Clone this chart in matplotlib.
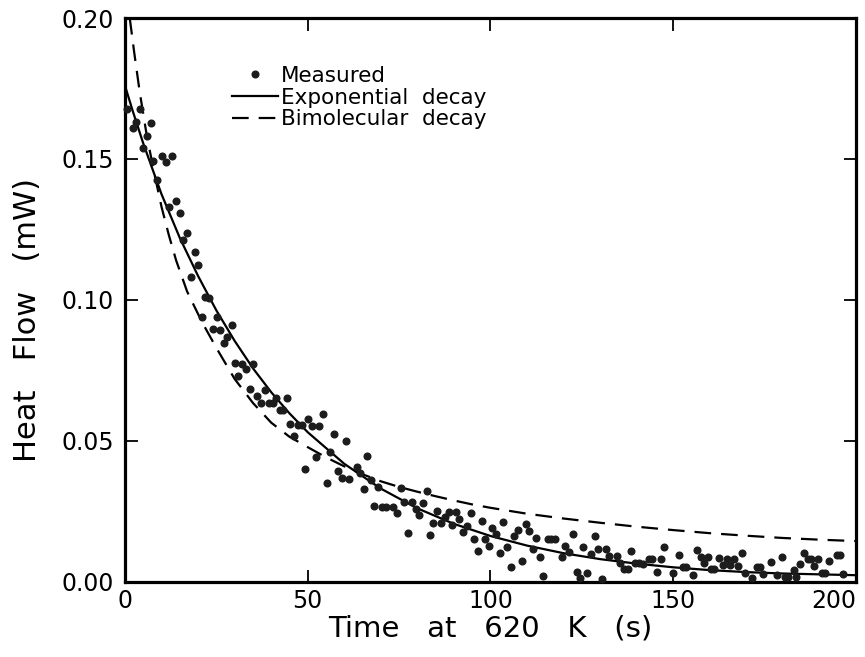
import matplotlib
matplotlib.use('Agg')
import matplotlib.pyplot as plt

# measured heat flow
t_meas = [0.5, 2.1, 3.0, 4.1, 5.0, 5.9, 7.0, 7.7, 8.8, 10.0, 11.1, 12.1, 12.9, 14.0, 15.0, 16.0, 17.0,
          18.1, 19.2, 20.1, 21.2, 22.0, 23.0, 24.2, 25.1, 26.0, 27.1, 28.0, 29.2, 30.1, 31.0, 32.1, 33.1,
          34.2, 35.1, 36.2, 37.2, 38.3, 39.5, 40.5, 41.2, 42.5, 43.3, 44.2, 45.1, 46.2, 47.4, 48.4, 49.2,
          50.2, 51.2, 52.3, 53.2, 54.3, 55.3, 56.1, 57.3, 58.3, 59.4, 60.4, 61.3, 63.4, 64.3, 65.4, 66.3,
          67.2, 68.2, 69.3, 70.4, 71.4, 73.4, 74.3, 75.4, 76.3, 77.5, 78.6, 79.5, 80.5, 81.4, 82.5, 83.4,
          84.4, 85.4, 86.5, 87.6, 88.6, 89.6, 90.6, 91.5, 92.6, 93.5, 94.6, 95.5, 96.5, 97.6, 98.5, 99.5,
          100.5, 101.5, 102.6, 103.5, 104.6, 105.6, 106.5, 107.6, 108.5, 109.6, 110.6, 111.5, 112.4, 113.5,
          114.4, 115.6, 116.6, 117.7, 119.5, 120.4, 121.6, 122.5, 123.6, 124.5, 125.4, 126.5, 127.5, 128.6,
          129.5, 130.4, 131.6, 132.5, 134.5, 135.4, 136.6, 137.6, 138.4, 139.5, 140.5, 141.8, 143.3, 144.3,
          145.5, 146.6, 147.6, 150.0, 151.6, 152.6, 153.5, 155.5, 156.4, 157.5, 158.4, 159.6, 160.4, 161.2,
          162.6, 163.5, 164.6, 165.5, 166.6, 167.6, 168.7, 169.6, 171.5, 172.8, 173.8, 174.6, 176.7, 178.5,
          179.7, 180.5, 181.5, 182.9, 183.5, 184.7, 185.8, 186.8, 187.6, 188.6, 189.7, 190.6, 191.4, 192.6,
          194.8, 195.6, 196.5]
v_meas = [0.1676, 0.1609, 0.1630, 0.1676, 0.1540, 0.1582, 0.1627, 0.1493, 0.1426, 0.1512, 0.1488, 0.1331,
          0.1511, 0.1352, 0.1307, 0.1213, 0.1239, 0.1080, 0.1169, 0.1124, 0.0941, 0.1010, 0.1008, 0.0896,
          0.0939, 0.0894, 0.0846, 0.0870, 0.0911, 0.0778, 0.0730, 0.0773, 0.0754, 0.0683, 0.0773, 0.0658,
          0.0634, 0.0681, 0.0634, 0.0634, 0.0654, 0.0610, 0.0610, 0.0651, 0.0559, 0.0518, 0.0558, 0.0558,
          0.0401, 0.0578, 0.0554, 0.0444, 0.0553, 0.0596, 0.0350, 0.0460, 0.0525, 0.0394, 0.0368, 0.0500,
          0.0366, 0.0407, 0.0388, 0.0330, 0.0448, 0.0362, 0.0271, 0.0336, 0.0267, 0.0267, 0.0265, 0.0244,
          0.0332, 0.0285, 0.0173, 0.0284, 0.0259, 0.0238, 0.0281, 0.0324, 0.0166, 0.0210, 0.0253, 0.0208,
          0.0229, 0.0248, 0.0202, 0.0248, 0.0224, 0.0178, 0.0199, 0.0244, 0.0152, 0.0110, 0.0216, 0.0151,
          0.0128, 0.0191, 0.0169, 0.0102, 0.0212, 0.0123, 0.0054, 0.0164, 0.0184, 0.0074, 0.0206, 0.0182,
          0.0117, 0.0157, 0.0090, 0.0022, 0.0154, 0.0152, 0.0152, 0.0088, 0.0128, 0.0106, 0.0170, 0.0037,
          0.0015, 0.0123, 0.0033, 0.0099, 0.0164, 0.0118, 0.0010, 0.0118, 0.0093, 0.0092, 0.0068, 0.0045,
          0.0045, 0.0110, 0.0066, 0.0066, 0.0064, 0.0082, 0.0082, 0.0037, 0.0080, 0.0123, 0.0033, 0.0097,
          0.0052, 0.0052, 0.0025, 0.0113, 0.0090, 0.0066, 0.0088, 0.0045, 0.0045, 0.0084, 0.0060, 0.0083,
          0.0060, 0.0080, 0.0057, 0.0102, 0.0033, 0.0013, 0.0052, 0.0052, 0.0028, 0.0070, 0.0025, 0.0090,
          0.0019, 0.0019, 0.0043, 0.0017, 0.0063, 0.0104, 0.0082, 0.0082, 0.0057, 0.0080, 0.0033, 0.0033,
          0.0076, 0.0096, 0.0096, 0.0028]

# exponential decay fit
t_exp = [0, 2, 5, 10, 15, 20, 25, 30, 35, 40, 45, 50, 60, 70, 80, 90, 100, 110, 120, 130, 140, 150,
         160, 170, 180, 190, 200]
v_exp = [0.176, 0.1675, 0.1555, 0.1375, 0.1220, 0.1085, 0.0963, 0.0855, 0.0758, 0.0673, 0.0598, 0.0531,
         0.0419, 0.0331, 0.0261, 0.0206, 0.0163, 0.0129, 0.0102, 0.0081, 0.0065, 0.0052, 0.0042, 0.0035,
         0.0030, 0.0027, 0.0024]

# bimolecular decay fit
t_bim = [1.3, 2.5, 4, 6, 8, 10, 12, 14, 17, 20, 22, 25, 30, 35, 40, 45, 50, 55, 60, 65, 70, 75, 80, 85,
         90, 95, 100, 110, 120, 130, 140, 150, 160, 170, 180, 190, 200]
v_bim = [0.200, 0.188, 0.174, 0.158, 0.145, 0.133, 0.123, 0.114, 0.103, 0.095, 0.090, 0.083, 0.072,
         0.0635, 0.0565, 0.0515, 0.0478, 0.0442, 0.0410, 0.0382, 0.0357, 0.0337, 0.0320, 0.0304, 0.0289,
         0.0275, 0.0263, 0.0242, 0.0225, 0.0210, 0.0196, 0.0184, 0.0173, 0.0164, 0.0156, 0.0150, 0.0145]

x_ticks = [0, 50, 100, 150, 200]
y_ticks = [0.00, 0.05, 0.10, 0.15, 0.20]

plt.rcParams['font.family'] = ['DejaVu Sans']

fig = plt.figure(figsize=(8.65, 6.57), dpi=100)
ax = fig.add_axes([0.1445, 0.1142, 0.8451, 0.8584])

ax.plot(t_meas, v_meas, 'o', ms=4.8, color='#1c1c1c', label='Measured', clip_on=False, zorder=3)
ax.plot(t_exp, v_exp, '-', color='black', lw=1.6, label='Exponential  decay')
ax.plot(t_bim, v_bim, color='black', lw=1.6, dashes=(7.5, 4.5), label='Bimolecular  decay')

ax.set_xlim(0, 200)
ax.set_ylim(0, 0.20)
ax.set_xticks(x_ticks)
ax.set_yticks(y_ticks)
ax.set_yticklabels(['%.2f' % v for v in y_ticks])
ax.get_xticklabels()[-1].set_horizontalalignment('right')
ax.tick_params(direction='in', length=9, width=1.3, top=True, right=True, labelsize=17)
ax.tick_params(axis='y', pad=8)
ax.tick_params(axis='x', pad=5)
for s in ax.spines.values():
    s.set_linewidth(2.3)

ax.set_xlabel('Time   at   620   K   (s)', fontsize=21, labelpad=1)
ax.set_ylabel('Heat   Flow   (mW)', fontsize=22)
ax.yaxis.set_label_coords(-0.113, 0.465)

ax.legend(loc='upper left', bbox_to_anchor=(0.146, 0.915), frameon=False, fontsize=15.5,
          numpoints=1, handlelength=2.15, handletextpad=0.12, labelspacing=0.08,
          borderpad=0, borderaxespad=0)

fig.savefig('out.png', dpi=100)
